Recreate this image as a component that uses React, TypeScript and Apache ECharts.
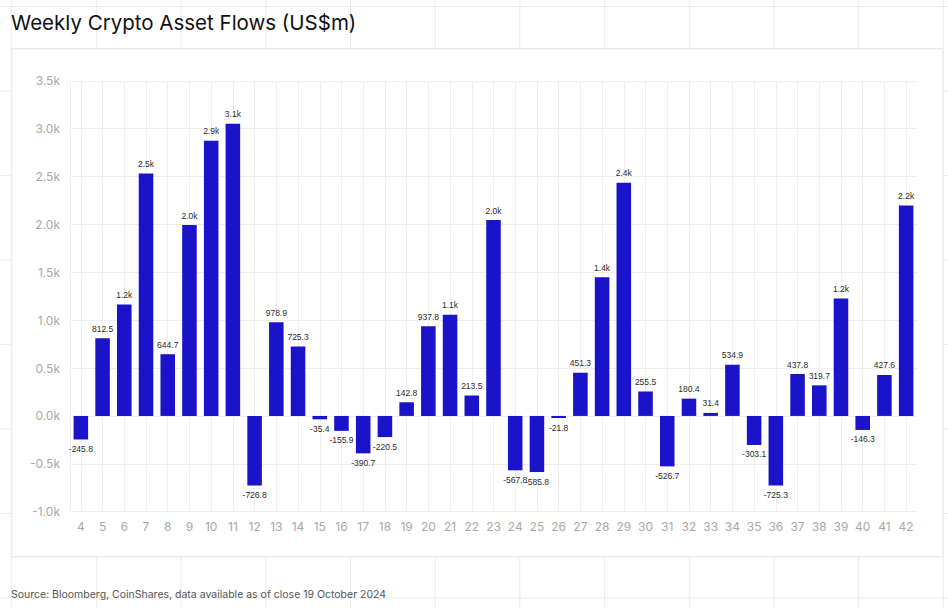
import React, { useEffect, useRef } from "react";
import * as echarts from "echarts";

const weeks: string[] = [
  "4","5","6","7","8","9","10","11","12","13","14","15","16","17","18","19","20","21","22","23",
  "24","25","26","27","28","29","30","31","32","33","34","35","36","37","38","39","40","41","42",
];
const flows: number[] = [
  -245.8, 812.5, 1164, 2533, 644.7, 1993, 2874, 3051, -726.8, 978.9, 725.3, -35.4, -155.9, -390.7,
  -220.5, 142.8, 937.8, 1056, 213.5, 2045, -567.8, -585.8, -21.8, 451.3, 1449, 2435, 255.5, -526.7,
  180.4, 31.4, 534.9, -303.1, -725.3, 437.8, 319.7, 1227, -146.3, 427.6, 2198,
];
const titleText = "Weekly Crypto Asset Flows (US$m)";
const sourceText = "Source: Bloomberg, CoinShares, data available as of close 19 October 2024";
const yMin = -1000;
const yMax = 3500;
const yStep = 500;

const FONT = "Inter, 'Noto Sans', sans-serif";
const LABEL_FONT = "'Liberation Sans', Arial, sans-serif";

function fmtBar(v: number): string {
  if (Math.abs(v) >= 1000) return (v / 1000).toFixed(1) + "k";
  return v.toFixed(1);
}

export default function App() {
  const ref = useRef<HTMLDivElement>(null);
  useEffect(() => {
    if (!ref.current) return;
    const chart = echarts.init(ref.current, undefined, { renderer: "svg" });

    const bg: any[] = [];
    const lineColor = "#ebebeb";
    for (let k = 0; k < 12; k++) {
      const x = 11.7 + 84.7 * k;
      bg.push({ type: "line", z: -20, shape: { x1: x, y1: 0, x2: x, y2: 608 }, style: { stroke: lineColor, lineWidth: 1 } });
    }
    for (let k = 0; k < 8; k++) {
      const y = 6.5 + 84.5 * k;
      bg.push({ type: "line", z: -20, shape: { x1: 0, y1: y, x2: 948, y2: y }, style: { stroke: lineColor, lineWidth: 1 } });
    }
    bg.push({
      type: "rect",
      z: -10,
      shape: { x: 11.7, y: 48.7, width: 931.3, height: 508 },
      style: { fill: "#ffffff", stroke: "#ebebeb", lineWidth: 1.5 },
    });
    bg.push({
      type: "text",
      z: 10,
      left: 11,
      top: 12,
      style: { text: titleText, fill: "#111111", font: `400 20.5px ${FONT}` },
    });
    bg.push({
      type: "text",
      z: 10,
      left: 11,
      top: 589,
      style: { text: sourceText, fill: "#555555", font: `400 10.5px ${FONT}` },
    });

    chart.setOption({
      animation: false,
      backgroundColor: "#ffffff",
      graphic: bg,
      grid: { left: 70, right: 31, top: 80.8, bottom: 96.3, containLabel: false },
      xAxis: {
        type: "category",
        data: weeks,
        boundaryGap: true,
        axisLine: { show: false },
        axisTick: { show: false },
        axisLabel: { color: "#a8a8a8", fontSize: 12, margin: 9, fontFamily: FONT, interval: 0 },
        splitLine: { show: true, alignWithLabel: true, lineStyle: { color: "#eeeeee", width: 1 } },
      },
      yAxis: {
        type: "value",
        min: yMin,
        max: yMax,
        interval: yStep,
        axisLine: { show: true, lineStyle: { color: "#eeeeee" } },
        axisTick: { show: false },
        axisLabel: {
          color: "#a8a8a8",
          fontSize: 12,
          margin: 10,
          fontFamily: FONT,
          formatter: (v: number) => (v / 1000).toFixed(1) + "k",
        },
        splitLine: { show: true, lineStyle: { color: "#eeeeee", width: 1 } },
      },
      series: [
        {
          type: "bar",
          barCategoryGap: "33%",
          itemStyle: { color: "#1b13c9" },
          data: flows.map((v) => ({
            value: v,
            label: { position: v < 0 ? "bottom" : "top" },
          })),
          label: {
            show: true,
            color: "#2a2a2a",
            fontSize: 8.5,
            fontFamily: LABEL_FONT,
            distance: 5,
            formatter: (p: any) => fmtBar(p.value),
          },
        },
      ],
    });
    return () => chart.dispose();
  }, []);
  return (
    <div
      ref={ref}
      style={{ position: "fixed", left: 0, top: 0, width: 948, height: 608 }}
    />
  );
}
